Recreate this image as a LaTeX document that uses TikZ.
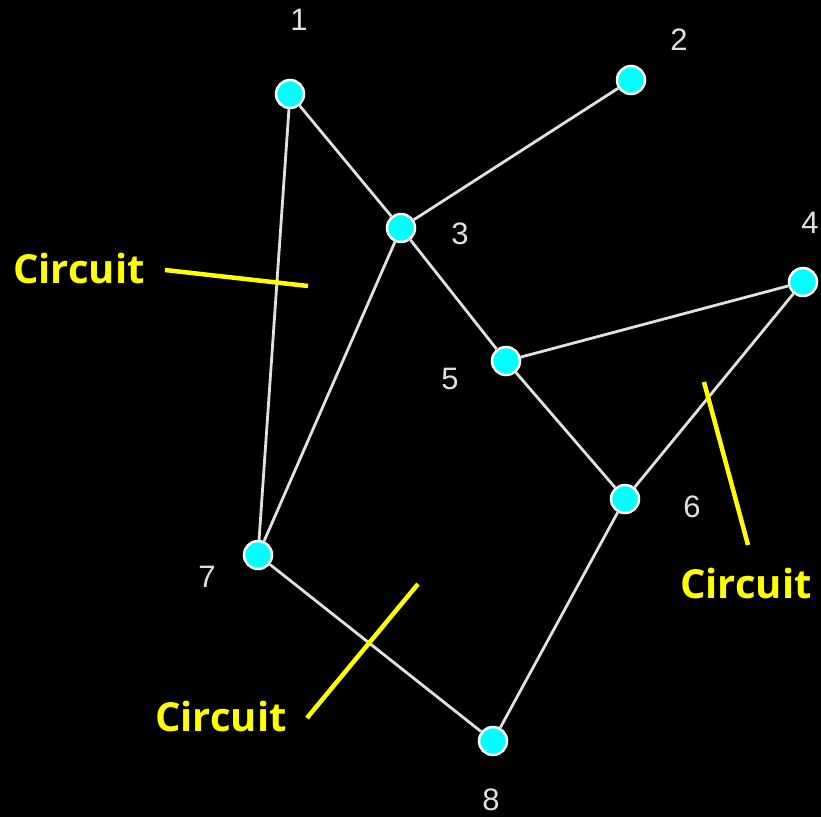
\documentclass[tikz,border=0pt]{standalone}
\usepackage{fontspec}
\setmainfont{Liberation Sans}
\newfontfamily\circuitfont{Open Sans}
\usepackage{xcolor}
\definecolor{vertexColor}{RGB}{0, 255, 255}
\definecolor{edgeColor}{RGB}{225, 225, 225}
\definecolor{markColor}{RGB}{255, 255, 0}
\usetikzlibrary{positioning}

\begin{document}
\begin{tikzpicture}[x=1pt, y=-1pt,
    vertex/.style={circle, fill=vertexColor, draw=white, line width=2.5pt, minimum size=28pt, inner sep=0pt},
    numlabel/.style={text=edgeColor, font=\fontsize{31}{31}\selectfont, inner sep=0pt},
    edge/.style={draw=edgeColor, line width=2.8pt},
    circuitlabel/.style={text=markColor, font=\circuitfont\bfseries\fontsize{40}{40}\selectfont, inner sep=0pt},
    marker/.style={draw=markColor, line width=4.5pt}]
    \fill[black] (0,0) rectangle (821,817);
    \useasboundingbox (0,0) rectangle (821,817);
    % vertices
    \node[vertex] (n1) at (290, 94) {};
    \node[vertex] (n2) at (631, 80) {};
    \node[vertex] (n3) at (401, 228) {};
    \node[vertex] (n4) at (803, 282) {};
    \node[vertex] (n5) at (506, 361) {};
    \node[vertex] (n6) at (625, 499) {};
    \node[vertex] (n7) at (258, 555) {};
    \node[vertex] (n8) at (493, 741) {};
    % vertex numbers
    \node[numlabel] (l1) at (299, 20) {1};
    \node[numlabel] (l2) at (679, 40) {2};
    \node[numlabel] (l3) at (460, 234) {3};
    \node[numlabel] (l4) at (810, 223) {4};
    \node[numlabel] (l5) at (450, 379) {5};
    \node[numlabel] (l6) at (692, 507) {6};
    \node[numlabel] (l7) at (207, 577) {7};
    \node[numlabel] (l8) at (491, 800) {8};
    % edges
    \foreach \a/\b in {n1/n3, n1/n7, n2/n3, n3/n7, n3/n5, n5/n4, n5/n6, n4/n6, n6/n8, n7/n8}
        \draw[edge] (\a) -- (\b);
    % circuit labels
    \node[circuitlabel] (c1) at (79, 268) {Circuit};
    \node[circuitlabel] (c2) at (746, 583) {Circuit};
    \node[circuitlabel] (c3) at (221, 716) {Circuit};
    \coordinate (m1a) at (165, 270);
    \coordinate (m1b) at (308, 286);
    \coordinate (m2a) at (748, 545);
    \coordinate (m2b) at (704, 382);
    \coordinate (m3a) at (307, 718);
    \coordinate (m3b) at (418, 584);
    \draw[marker] (m1a) -- (m1b);
    \draw[marker] (m2a) -- (m2b);
    \draw[marker] (m3a) -- (m3b);
\end{tikzpicture}
\end{document}
